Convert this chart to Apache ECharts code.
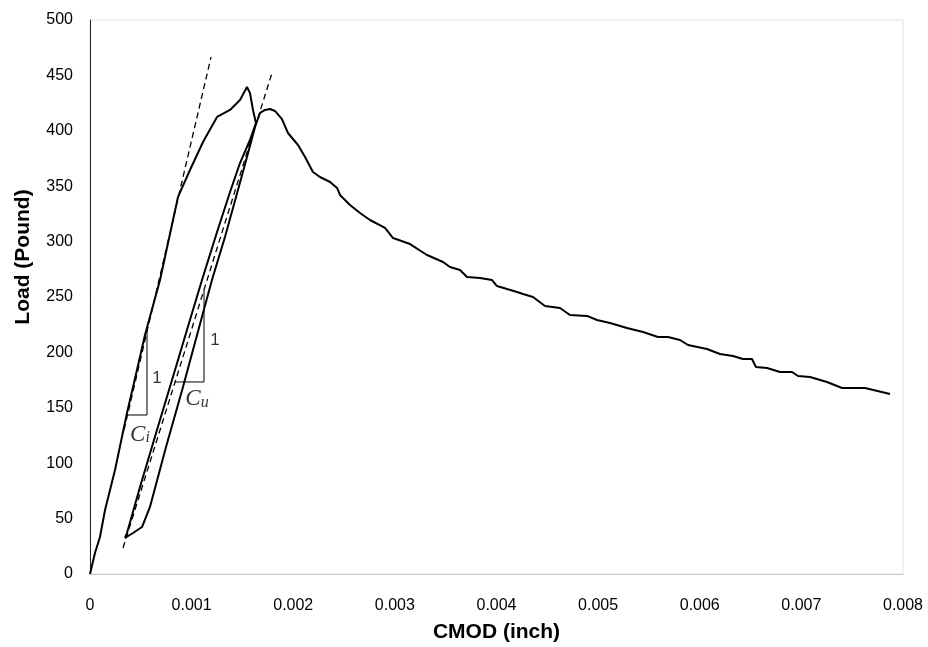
<!DOCTYPE html>
<html>
<head>
<meta charset="utf-8">
<script src="https://cdn.jsdelivr.net/npm/echarts@6/dist/echarts.min.js"></script>
<style>
html,body{margin:0;padding:0;background:#fff;}
#chart{width:928px;height:647px;}
</style>
</head>
<body>
<div id="chart"></div>
<script>
// CMOD (inch) and Load (Pound) of the measured curve
var cmod = [0,0.000049,0.000098,0.000148,0.000246,0.000364,0.000462,0.000541,0.000689,0.000866,0.000984,0.001112,0.00125,0.001378,0.001476,0.001545,
  0.001574,0.001604,0.001633,
  0.001574,0.001476,0.001378,0.00125,0.001102,0.000954,0.000807,0.000659,0.000492,0.000364,0.000344,
  0.000423,0.000512,0.00059,0.000748,0.000915,0.001112,0.0012,0.001328,0.001437,0.001545,0.001624,
  0.001673,0.001722,0.001771,0.00182,0.001889,0.001948,0.002047,0.002116,0.002194,0.002263,0.002362,0.002431,0.00246,0.002558,0.002657,0.002755,0.002903,0.002982,
  0.003149,0.003316,0.003474,0.003542,0.003641,0.00371,0.003838,0.003956,0.004005,0.004202,0.004261,0.004359,0.004477,0.004625,0.004723,0.004891,0.004989,
  0.005117,0.005284,0.005442,0.005589,0.005688,0.005806,0.005884,0.006071,0.006199,0.006327,0.006425,0.006514,0.006553,0.006662,0.00679,0.006908,0.006967,
  0.007085,0.007252,0.0074,0.007626,0.007872];
var load = [0,19,33.4,57.8,93.9,145.3,184.1,215.7,265.3,340.3,364.6,389.9,412.5,418.8,427.8,439.5,
  434.1,418.8,407,
  391.7,370.9,344.8,308.7,265.3,220.2,175.1,130,78.5,37,32.5,
  37,42.4,60.5,114.6,168.8,235.6,265.3,304.2,340.3,376.4,403.4,
  416.1,418.8,419.7,417.9,410.6,398,387.2,376.4,362.8,358.3,353.8,348.4,342.1,333,325.8,319.5,312.3,303.2,
  297.8,287.9,281.6,277.1,274.4,268.1,267.1,265.3,259.9,254.5,252.7,250,241.9,240.1,233.8,232.9,229.2,
  226.5,222,218.4,213.9,213.9,211.2,206.7,203.1,198.6,196.8,194,194,186.8,185.9,182.3,182.3,178.7,
  177.8,173.3,167.9,167.9,162.5];

// dashed tangent lines: initial (Ci) and unloading (Cu)
var tangentIX = [0.000335, 0.001191];
var tangentILoad = [130, 466.6];
var tangentUX = [0.000325, 0.001791];
var tangentULoad = [23.5, 452.2];

// slope triangles
var triIX = [0.000561, 0.000561, 0.000369];
var triILoad = [218.4, 143.5, 143.5];
var triUX = [0.001122, 0.001122, 0.000836];
var triULoad = [256.3, 173.3, 173.3];

// annotation positions [cmod, load, text]
var notes = [
  [0.000659, 177, '1'],
  [0.000492, 127, 'Ci'],
  [0.00123, 211, '1'],
  [0.001053, 159, 'Cu']
];

var xTicks = {min: 0, max: 0.008, interval: 0.001};
var yTicks = {min: 0, max: 500, interval: 50};

function pairs(xs, ys) { return xs.map(function (x, i) { return [x, ys[i]]; }); }

var chart = echarts.init(document.getElementById('chart'), null, {renderer: 'canvas'});
var font = 'Arial, "Liberation Sans", sans-serif';

var noteData = notes.map(function (n) {
  var txt;
  if (n[2] === '1') txt = '{one|1}';
  else txt = '{c|C}{s|' + n[2].charAt(1) + '}';
  return {value: [n[0], n[1]], label: {formatter: txt}};
});

chart.setOption({
  animation: false,
  backgroundColor: '#fff',
  grid: {left: 90, right: 25, top: 20, bottom: 73, outerBoundsMode: 'none', containLabel: false,
    show: true, borderColor: '#c8c8c8', borderWidth: 1, borderType: 'dotted'},
  xAxis: {
    type: 'value', min: xTicks.min, max: xTicks.max, interval: xTicks.interval,
    name: 'CMOD (inch)', nameLocation: 'middle', nameGap: 48,
    nameTextStyle: {fontFamily: font, fontWeight: 'bold', fontSize: 21, color: '#000'},
    axisLine: {show: true, lineStyle: {color: '#c8c8c8', type: 'dotted', width: 1}},
    axisTick: {show: false},
    splitLine: {show: false},
    axisLabel: {fontFamily: font, fontSize: 16, color: '#000', margin: 24,
      formatter: function (v) { return v === 0 ? '0' : v.toFixed(3); }}
  },
  yAxis: {
    type: 'value', min: yTicks.min, max: yTicks.max, interval: yTicks.interval,
    name: 'Load (Pound)', nameLocation: 'middle', nameGap: 56, nameRotate: 90,
    nameTextStyle: {fontFamily: font, fontWeight: 'bold', fontSize: 21, color: '#000', padding: [0, 0, 0, 80]},
    axisLine: {show: true, lineStyle: {color: '#222', width: 1}},
    axisTick: {show: false},
    splitLine: {show: false},
    axisLabel: {fontFamily: font, fontSize: 16, color: '#000', margin: 17}
  },
  series: [
    {type: 'line', data: pairs(cmod, load), showSymbol: false, symbol: 'none',
      lineStyle: {color: '#000', width: 2}, z: 5},
    {type: 'line', data: pairs(tangentIX, tangentILoad), symbol: 'none',
      lineStyle: {color: '#000', width: 1.3, type: [6, 4]}},
    {type: 'line', data: pairs(tangentUX, tangentULoad), symbol: 'none',
      lineStyle: {color: '#000', width: 1.3, type: [6, 4]}},
    {type: 'line', data: pairs(triIX, triILoad), symbol: 'none',
      lineStyle: {color: '#000', width: 1}},
    {type: 'line', data: pairs(triUX, triULoad), symbol: 'none',
      lineStyle: {color: '#000', width: 1}},
    {type: 'scatter', data: noteData, symbolSize: 0, z: 10,
      label: {show: true, position: 'inside', color: '#000',
        rich: {
          one: {fontFamily: font, fontSize: 17, color: '#000'},
          c: {fontFamily: '"Liberation Serif", "Times New Roman", serif', fontStyle: 'italic', fontSize: 23, color: '#000', lineHeight: 26, verticalAlign: 'bottom'},
          s: {fontFamily: '"Liberation Serif", "Times New Roman", serif', fontStyle: 'italic', fontSize: 16, color: '#000', lineHeight: 26, verticalAlign: 'bottom', padding: [10, 0, 0, 0]}
        }}}
  ]
});
</script>
</body>
</html>
